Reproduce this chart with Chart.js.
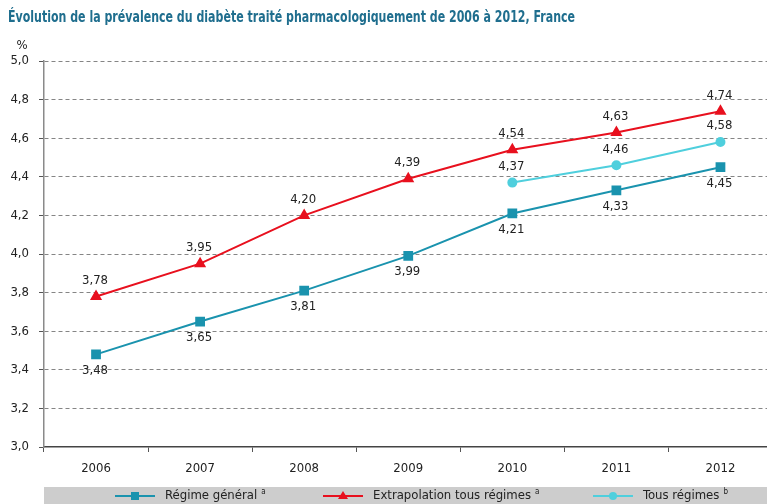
<!DOCTYPE html>
<html lang="fr">
  <head>
    <meta charset="UTF-8" />
    <title>Prévalence du diabète traité</title>
    <script src="https://cdn.jsdelivr.net/npm/chart.js"></script>
    <style>
      body { margin: 0; overflow: hidden; background: #fff; }
      #wrap { width: 780px; height: 504px; }
    </style>
  </head>
  <body>
    <div id="wrap">
      <canvas id="diabete" width="780" height="504"></canvas>
    </div>

    <script>
      // Données
      const annees = ["2006", "2007", "2008", "2009", "2010", "2011", "2012"];
      const regimeGeneral = [3.48, 3.65, 3.81, 3.99, 4.21, 4.33, 4.45];
      const extrapolation = [3.78, 3.95, 4.20, 4.39, 4.54, 4.63, 4.74];
      const tousRegimes = [null, null, null, null, 4.37, 4.46, 4.58];

      const TITRE = "Évolution de la prévalence du diabète traité pharmacologiquement de 2006 à 2012, France";
      const FONT = "'Liberation Sans Narrow', 'DejaVu Sans Condensed', 'Liberation Sans', sans-serif";
      const TEXT = "#222";

      const fmt = (v) => v.toFixed(2).replace(".", ",");

      // Etiquettes des valeurs (dessus ou dessous du point)
      const valueLabels = {
        id: "valueLabels",
        afterDatasetsDraw(chart) {
          const ctx = chart.ctx;
          ctx.save();
          ctx.font = "13px " + FONT;
          ctx.fillStyle = TEXT;
          ctx.textAlign = "center";
          ctx.textBaseline = "middle";
          chart.data.datasets.forEach((ds, i) => {
            const meta = chart.getDatasetMeta(i);
            meta.data.forEach((pt, j) => {
              const v = ds.data[j];
              if (v == null) return;
              const dy = ds.labelPos === "below" ? 16 : -16;
              ctx.fillText(fmt(v), pt.x - 1, pt.y + dy);
            });
          });
          ctx.restore();
        },
      };

      // titre, "%" au-dessus de l'axe et légende sur bandeau gris
      const decor = {
        id: "decor",
        afterDraw(chart) {
          const ctx = chart.ctx;
          const area = chart.chartArea;
          ctx.save();

          // titre en police étroite (compression horizontale)
          ctx.save();
          ctx.font = "bold 15px " + FONT;
          ctx.fillStyle = "#1f6e8e";
          ctx.textAlign = "left";
          ctx.textBaseline = "middle";
          const tw = ctx.measureText(TITRE).width;
          const sx = Math.min(1, 567 / tw);
          ctx.translate(8, 18);
          ctx.scale(sx, 1);
          ctx.fillText(TITRE, 0, 0);
          ctx.restore();

          ctx.fillStyle = TEXT;
          ctx.font = "13px " + FONT;
          ctx.textAlign = "center";
          ctx.textBaseline = "middle";
          ctx.fillText("%", 22, 46);

          // bandeau
          const top = 487;
          ctx.fillStyle = "#cdcdcd";
          ctx.fillRect(area.left, top, chart.width - area.left, chart.height - top);

          const yMid = top + 9;
          const starts = [115, 323, 593];
          const sups = ["a", "a", "b"];
          chart.data.datasets.forEach((ds, i) => {
            const x0 = starts[i];
            ctx.strokeStyle = ds.borderColor;
            ctx.lineWidth = 2;
            ctx.beginPath();
            ctx.moveTo(x0, yMid);
            ctx.lineTo(x0 + 40, yMid);
            ctx.stroke();
            ctx.fillStyle = ds.borderColor;
            const cx = x0 + 20;
            if (ds.pointStyle === "rect") {
              ctx.fillRect(cx - 4, yMid - 4, 8, 8);
            } else if (ds.pointStyle === "triangle") {
              ctx.beginPath();
              ctx.moveTo(cx, yMid - 5);
              ctx.lineTo(cx + 5, yMid + 3);
              ctx.lineTo(cx - 5, yMid + 3);
              ctx.closePath();
              ctx.fill();
            } else {
              ctx.beginPath();
              ctx.arc(cx, yMid, 4, 0, Math.PI * 2);
              ctx.fill();
            }
            ctx.fillStyle = TEXT;
            ctx.textAlign = "left";
            ctx.font = "13px " + FONT;
            const tx = x0 + 50;
            ctx.fillText(ds.label, tx, yMid);
            const w = ctx.measureText(ds.label).width;
            ctx.font = "8px " + FONT;
            ctx.fillText(sups[i], tx + w + 4, yMid - 4);
          });
          ctx.restore();
        },
      };

      const ctx = document.getElementById("diabete").getContext("2d");

      new Chart(ctx, {
        type: "line",
        data: {
          labels: annees,
          datasets: [
            {
              label: "Régime général",
              data: regimeGeneral,
              borderColor: "#1a93ae",
              backgroundColor: "#1a93ae",
              borderWidth: 2,
              pointStyle: "rect",
              pointRadius: 5.5,
              labelPos: "below",
              fill: false,
            },
            {
              label: "Extrapolation tous régimes",
              data: extrapolation,
              borderColor: "#e8101e",
              backgroundColor: "#e8101e",
              borderWidth: 2,
              pointStyle: "triangle",
              pointRadius: 5,
              labelPos: "above",
              fill: false,
            },
            {
              label: "Tous régimes",
              data: tousRegimes,
              borderColor: "#4fcfdd",
              backgroundColor: "#4fcfdd",
              borderWidth: 2,
              pointStyle: "circle",
              pointRadius: 4,
              labelPos: "above",
              fill: false,
            },
          ],
        },
        options: {
          responsive: false,
          animation: false,
          layout: { padding: { left: 8, right: 0, top: 61, bottom: 17 } },
          plugins: {
            legend: { display: false },
            tooltip: { enabled: false },
            title: { display: false },
          },
          scales: {
            x: {
              offset: true,
              afterFit: (scale) => { scale.height = 40; },
              grid: {
                drawOnChartArea: false,
                drawTicks: true,
                tickLength: 5,
                tickColor: "#555",
                offset: true,
              },
              border: { color: "#444", width: 1.5 },
              ticks: {
                color: TEXT,
                padding: 9,
                font: { family: FONT, size: 13 },
              },
            },
            y: {
              min: 3,
              max: 5,
              afterFit: (scale) => { scale.width = 36; },
              grid: {
                color: (c) => (c.tick && c.tick.value === 3 ? "rgba(0,0,0,0)" : "#858585"),
                tickColor: "#555",
                tickLength: 5,
                lineWidth: 1,
              },
              border: { color: "#8a8a8a", width: 1.5, dash: [4, 3] },
              ticks: {
                stepSize: 0.2,
                color: TEXT,
                padding: 10,
                font: { family: FONT, size: 13 },
                callback: (v) => v.toFixed(1).replace(".", ","),
              },
            },
          },
        },
        plugins: [valueLabels, decor],
      });
    </script>
  </body>
</html>
